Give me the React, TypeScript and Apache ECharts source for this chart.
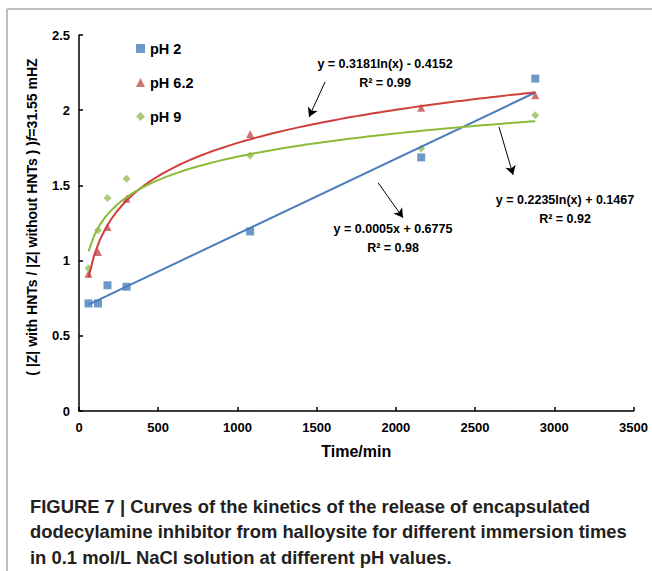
import React, { useEffect, useRef } from "react";
import * as echarts from "echarts";

const times = [60, 120, 180, 300, 1080, 2160, 2880];
const ph2 = [0.715, 0.715, 0.836, 0.826, 1.194, 1.686, 2.21];
const ph62 = [0.912, 1.058, 1.224, 1.411, 1.841, 2.017, 2.1];
const ph9 = [0.949, 1.201, 1.416, 1.544, 1.699, 1.745, 1.967];

const seriesNames = ["pH 2", "pH 6.2", "pH 9"];
const colors = ["#4A7EBB", "#C0504D", "#9BBB59"];
const lineColors = ["#4A7EBB", "#D03F3C", "#8DBB3A"];

// trendline coefficients as printed on the chart
const linCoef = [0.0005, 0.6775]; // y = a x + b
const log62Coef = [0.3181, -0.4152]; // y = a ln(x) + b
const log9Coef = [0.2235, 0.1467];

const eqLabels = [
  ["y = 0.3181ln(x) - 0.4152", "R\u00B2 = 0.99"],
  ["y = 0.0005x + 0.6775", "R\u00B2 = 0.98"],
  ["y = 0.2235ln(x) + 0.1467", "R\u00B2 = 0.92"],
];

// arrows in data coordinates [from, to]
const arrows = [
  [[1553, 2.188], [1452, 1.955]],
  [[1888, 1.517], [2045, 1.285]],
  [[2651, 1.889], [2740, 1.57]],
];

const captionLines = [
  "FIGURE 7 | Curves of the kinetics of the release of encapsulated",
  "dodecylamine inhibitor from halloysite for different immersion times",
  "in 0.1 mol/L NaCl solution at different pH values.",
];

function logCurve(coef: number[]) {
  const pts: number[][] = [];
  const x0 = times[0];
  const x1 = times[times.length - 1];
  const n = 80;
  for (let i = 0; i <= n; i++) {
    const x = x0 + ((x1 - x0) * i) / n;
    pts.push([x, coef[0] * Math.log(x) + coef[1]]);
  }
  return pts;
}

export default function App() {
  const ref = useRef<HTMLDivElement>(null);
  useEffect(() => {
    document.body.style.margin = "0";
    const chart = echarts.init(ref.current!, null, { renderer: "svg" });
    const font = "Liberation Sans, Arial, sans-serif";
    const x0 = times[0];
    const x1 = times[times.length - 1];
    const linPts = [
      [x0, linCoef[0] * x0 + linCoef[1]],
      [x1, linCoef[0] * x1 + linCoef[1]],
    ];
    const eqPos = [
      [385, 73],
      [393, 238],
      [565, 209],
    ];
    const graphics: any[] = [
      { type: "line", shape: { x1: 7, y1: 9, x2: 652, y2: 9 }, style: { stroke: "#aaaaaa", lineWidth: 1.5 } },
      { type: "line", shape: { x1: 7, y1: 9, x2: 7, y2: 571 }, style: { stroke: "#aaaaaa", lineWidth: 1.5 } },
      {
        type: "text",
        x: 32,
        y: 217,
        rotation: Math.PI / 2,
        style: {
          text: "{a|( |Z| with HNTs / |Z| without HNTs ) )}{f|f}{a|=31.55 mHZ}",
          align: "center",
          verticalAlign: "middle",
          rich: {
            a: { fontFamily: font, fontWeight: "bold", fontSize: 14, fill: "#000" },
            f: { fontFamily: font, fontWeight: "bold", fontStyle: "italic", fontSize: 14, fill: "#000" },
          },
        },
      },
    ];
    eqLabels.forEach((lbl, i) => {
      graphics.push({
        type: "text",
        x: eqPos[i][0],
        y: eqPos[i][1],
        style: {
          text: lbl[0] + "\n" + lbl[1],
          align: "center",
          verticalAlign: "middle",
          lineHeight: 19,
          fontFamily: font,
          fontWeight: "bold",
          fontSize: 12.5,
          fill: "#000",
        },
      });
    });
    captionLines.forEach((t, i) => {
      graphics.push({
        type: "text",
        x: 30,
        y: 506 + i * 25.5,
        style: {
          text: t,
          align: "left",
          verticalAlign: "middle",
          fontFamily: font,
          fontWeight: "bold",
          fontSize: 18.4,
          fill: "#231f20",
        },
      });
    });

    chart.setOption({
      animation: false,
      backgroundColor: "#fff",
      grid: { left: 79, right: 18.5, top: 35, bottom: 160, containLabel: false },
      legend: {
        data: seriesNames,
        orient: "vertical",
        left: 131,
        top: 36,
        itemGap: 19,
        itemWidth: 9,
        itemHeight: 9,
        textStyle: { fontFamily: font, fontWeight: "bold", fontSize: 14.5, color: "#000" },
      },
      xAxis: {
        type: "value",
        min: 0,
        max: 3500,
        interval: 500,
        name: "Time/min",
        nameLocation: "middle",
        nameGap: 32,
        nameTextStyle: { fontFamily: font, fontWeight: "bold", fontSize: 16, color: "#000" },
        axisLine: { lineStyle: { color: "#000", width: 1.5 } },
        axisTick: { inside: true, length: 4, lineStyle: { color: "#000", width: 1.5 } },
        axisLabel: {
          fontFamily: font,
          fontWeight: "bold",
          fontSize: 13,
          color: "#000",
          margin: 10,
          formatter: (v: number) => String(v),
        },
        splitLine: { show: false },
      },
      yAxis: {
        type: "value",
        min: 0,
        max: 2.5,
        interval: 0.5,
        axisLine: { show: true, lineStyle: { color: "#000", width: 1.5 } },
        axisTick: { show: true, inside: true, length: 4, lineStyle: { color: "#000", width: 1.5 } },
        axisLabel: { fontFamily: font, fontWeight: "bold", fontSize: 13, color: "#000", margin: 9 },
        splitLine: { show: false },
      },
      graphic: graphics,
      series: [
        {
          name: "trend2",
          type: "line",
          data: linPts,
          showSymbol: false,
          silent: true,
          lineStyle: { color: lineColors[0], width: 2 },
          markLine: {
            silent: true,
            symbol: ["none", "arrow"],
            symbolSize: [8, 9],
            label: { show: false },
            lineStyle: { color: "#000", width: 1, type: "solid" },
            data: arrows.map((a) => [{ coord: a[0] }, { coord: a[1] }]),
          },
        },
        {
          name: "trend62",
          type: "line",
          data: logCurve(log62Coef),
          showSymbol: false,
          silent: true,
          lineStyle: { color: lineColors[1], width: 2 },
        },
        {
          name: "trend9",
          type: "line",
          data: logCurve(log9Coef),
          showSymbol: false,
          silent: true,
          lineStyle: { color: lineColors[2], width: 2 },
        },
        {
          name: seriesNames[0],
          type: "scatter",
          symbol: "rect",
          symbolSize: 8,
          itemStyle: { color: colors[0] },
          data: times.map((t, i) => [t, ph2[i]]),
        },
        {
          name: seriesNames[1],
          type: "scatter",
          symbol: "triangle",
          symbolSize: 8,
          itemStyle: { color: colors[1] },
          data: times.map((t, i) => [t, ph62[i]]),
        },
        {
          name: seriesNames[2],
          type: "scatter",
          symbol: "diamond",
          symbolSize: 8,
          itemStyle: { color: colors[2] },
          data: times.map((t, i) => [t, ph9[i]]),
        },
      ],
    });
    return () => chart.dispose();
  }, []);
  return <div ref={ref} style={{ width: 652, height: 571 }} />;
}
